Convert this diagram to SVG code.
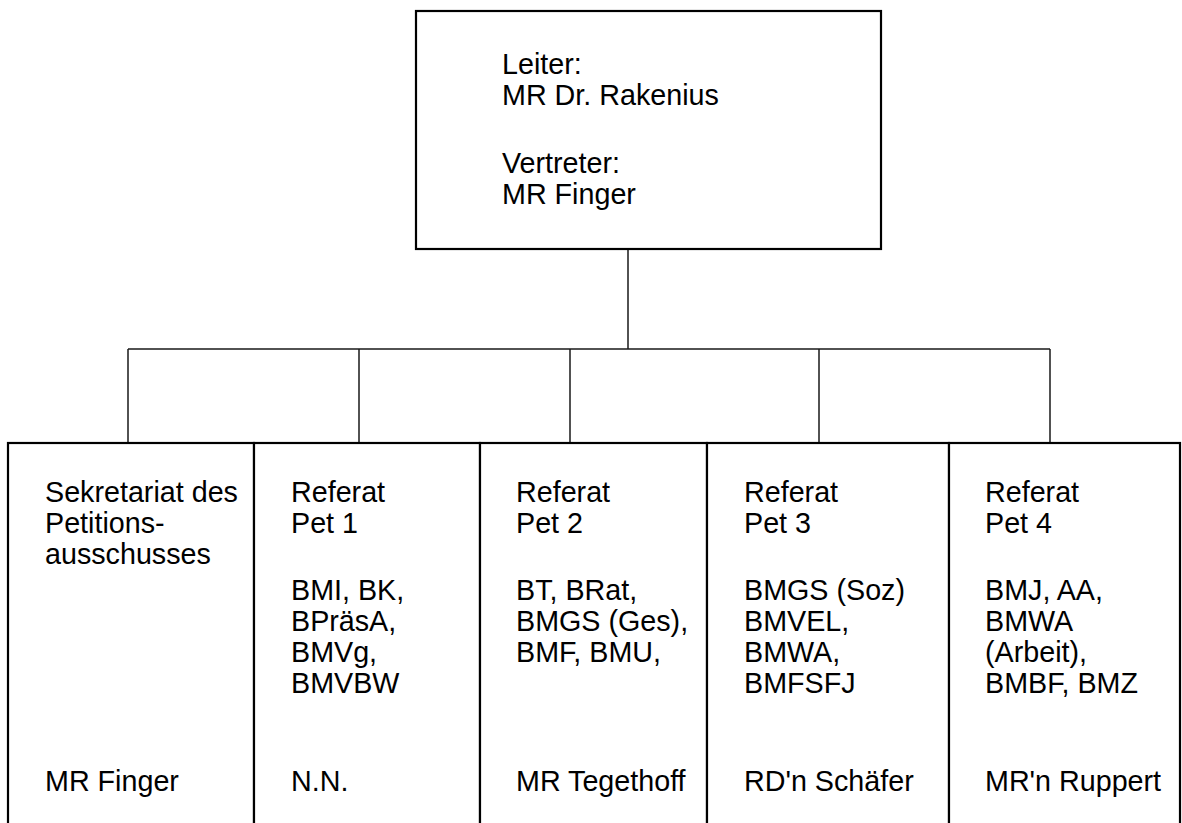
<svg xmlns="http://www.w3.org/2000/svg" width="1182" height="823" viewBox="0 0 1182 823">
<style>
.box{fill:#fff;stroke:#000;stroke-width:2.2}
.con{fill:none;stroke:#1a1a1a;stroke-width:1.5}
text{font-family:"Liberation Sans",Arial,sans-serif;font-size:28.7px;fill:#000}
</style>
<rect width="1182" height="823" fill="#fff"/>
<g id="connectors">
<path class="con" d="M628 249V349M128 349H1050M128 349V443M359 349V443M570 349V443M819 349V443M1050 349V443"/>
</g>
<g id="leiter">
<rect class="box" x="416" y="11" width="465" height="238"/>
<text x="502" y="74">Leiter:</text>
<text x="502" y="105">MR Dr. Rakenius</text>
<text x="502" y="173">Vertreter:</text>
<text x="502" y="204">MR Finger</text>
</g>
<g id="sekretariat">
<rect class="box" x="8" y="443" width="246" height="400"/>
<text x="45" y="502">Sekretariat des</text>
<text x="45" y="533">Petitions-</text>
<text x="45" y="564">ausschusses</text>
<text x="45" y="791">MR Finger</text>
</g>
<g id="pet1">
<rect class="box" x="254" y="443" width="226" height="400"/>
<text x="291" y="502">Referat</text>
<text x="291" y="533">Pet 1</text>
<text x="291" y="600">BMI, BK,</text>
<text x="291" y="631">BPräsA,</text>
<text x="291" y="662">BMVg,</text>
<text x="291" y="693">BMVBW</text>
<text x="291" y="791">N.N.</text>
</g>
<g id="pet2">
<rect class="box" x="480" y="443" width="227" height="400"/>
<text x="516" y="502">Referat</text>
<text x="516" y="533">Pet 2</text>
<text x="516" y="600">BT, BRat,</text>
<text x="516" y="631">BMGS (Ges),</text>
<text x="516" y="662">BMF, BMU,</text>
<text x="516" y="791">MR Tegethoff</text>
</g>
<g id="pet3">
<rect class="box" x="707" y="443" width="242" height="400"/>
<text x="744" y="502">Referat</text>
<text x="744" y="533">Pet 3</text>
<text x="744" y="600">BMGS (Soz)</text>
<text x="744" y="631">BMVEL,</text>
<text x="744" y="662">BMWA,</text>
<text x="744" y="693">BMFSFJ</text>
<text x="744" y="791">RD'n Schäfer</text>
</g>
<g id="pet4">
<rect class="box" x="949" y="443" width="231" height="400"/>
<text x="985" y="502">Referat</text>
<text x="985" y="533">Pet 4</text>
<text x="985" y="600">BMJ, AA,</text>
<text x="985" y="631">BMWA</text>
<text x="985" y="662">(Arbeit),</text>
<text x="985" y="693">BMBF, BMZ</text>
<text x="985" y="791">MR'n Ruppert</text>
</g>
</svg>
